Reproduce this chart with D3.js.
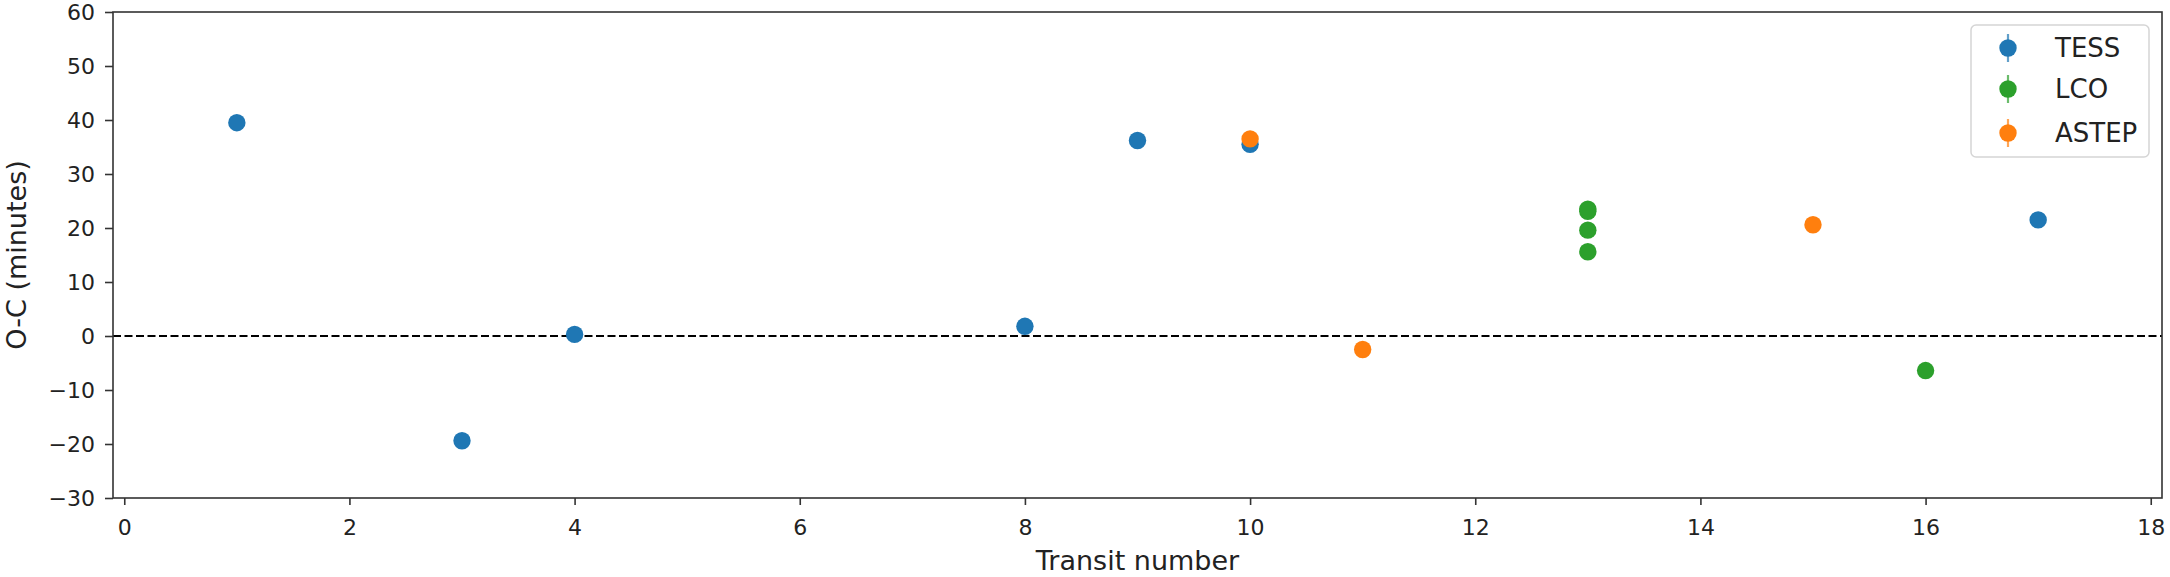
<!DOCTYPE html>
<html><head><meta charset="utf-8">
<script src="https://cdn.jsdelivr.net/npm/d3@7"></script>
<style>
html,body{margin:0;padding:0;background:#fff;}
svg{display:block;font-family:"DejaVu Sans",sans-serif;}
</style></head>
<body>
<svg id="chart" width="2170" height="577"></svg>
<script>
// ---- data ----
const seriesNames = ["TESS", "LCO", "ASTEP"];
const seriesColors = ["#1f77b4", "#2ca02c", "#ff7f0e"];
const tessX = [1, 3, 4, 8, 9, 10, 17];
const tessY = [39.5, -19.4, 0.3, 1.8, 36.2, 35.5, 21.5];
const tessErr = [0.6, 0.8, 0.6, 0.6, 0.6, 0.6, 0.6];
const lcoX = [13, 13, 13, 13, 16];
const lcoY = [23.5, 23.1, 19.6, 15.6, -6.4];
const lcoErr = [1.3, 1.3, 1.3, 1.3, 1.0];
const astepX = [10, 11, 15];
const astepY = [36.5, -2.5, 20.6];
const astepErr = [0.8, 0.8, 0.8];
const xTicks = [0, 2, 4, 6, 8, 10, 12, 14, 16, 18];
const yTicks = [-30, -20, -10, 0, 10, 20, 30, 40, 50, 60];
const xLabel = "Transit number";
const yLabel = "O-C (minutes)";

const series = [
  {name: seriesNames[0], color: seriesColors[0], x: tessX, y: tessY, e: tessErr},
  {name: seriesNames[1], color: seriesColors[1], x: lcoX, y: lcoY, e: lcoErr},
  {name: seriesNames[2], color: seriesColors[2], x: astepX, y: astepY, e: astepErr}
];

const svg = d3.select("#chart");
const L = 113, R = 2162, T = 12, B = 498;
const x = d3.scaleLinear().domain([-0.1, 18.1]).range([L, R]);
const y = d3.scaleLinear().domain([-30, 60]).range([B, T]);

// zero line
svg.append("line")
  .attr("x1", L).attr("x2", R).attr("y1", y(0)).attr("y2", y(0))
  .attr("stroke", "#000").attr("stroke-width", 2.2).attr("stroke-dasharray", "8,3.5");

// data
series.forEach(s => {
  const g = svg.append("g");
  const pts = s.x.map((xv, i) => ({x: xv, y: s.y[i], e: s.e[i]}));
  g.selectAll("line").data(pts).enter().append("line")
    .attr("x1", d => x(d.x)).attr("x2", d => x(d.x))
    .attr("y1", d => y(d.y - d.e)).attr("y2", d => y(d.y + d.e))
    .attr("stroke", s.color).attr("stroke-width", 2.2);
  g.selectAll("circle").data(pts).enter().append("circle")
    .attr("cx", d => x(d.x)).attr("cy", d => y(d.y)).attr("r", 8.7)
    .attr("fill", s.color);
});

// axes
const xAxis = svg.append("g").attr("transform", `translate(0,${B})`)
  .call(d3.axisBottom(x).tickValues(xTicks).tickSize(7).tickPadding(10).tickFormat(d3.format("d")));
const yAxis = svg.append("g").attr("transform", `translate(${L},0)`)
  .call(d3.axisLeft(y).tickValues(yTicks).tickSize(8).tickPadding(10).tickFormat(d => d < 0 ? "\u2212" + Math.abs(d) : d));
[xAxis, yAxis].forEach(a => {
  a.select(".domain").remove();
  a.selectAll(".tick line").attr("stroke", "#333").attr("stroke-width", 1.6);
  a.selectAll(".tick text").attr("fill", "#222").style("font-size", "22px").style("font-family", "DejaVu Sans");
});
xAxis.selectAll(".tick text").attr("dy", "0.9em");

// frame
svg.append("rect").attr("x", L).attr("y", T).attr("width", R - L).attr("height", B - T)
  .attr("fill", "none").attr("stroke", "#333").attr("stroke-width", 1.6);

// axis labels
svg.append("text").attr("x", (L + R) / 2).attr("y", 570).attr("text-anchor", "middle")
  .attr("fill", "#222").style("font-size", "27px").text(xLabel);
svg.append("text").attr("transform", `translate(26,${(T + B) / 2}) rotate(-90)`)
  .attr("text-anchor", "middle").attr("fill", "#222").style("font-size", "27px").text(yLabel);

// legend
const lg = svg.append("g");
lg.append("rect").attr("x", 1971).attr("y", 25).attr("width", 178).attr("height", 132)
  .attr("rx", 5).attr("fill", "#fff").attr("fill-opacity", 0.8).attr("stroke", "#d5d5d5").attr("stroke-width", 1.5);
const ly = [48, 89, 133];
series.forEach((s, i) => {
  lg.append("line").attr("x1", 2008).attr("x2", 2008).attr("y1", ly[i] - 14).attr("y2", ly[i] + 14)
    .attr("stroke", s.color).attr("stroke-width", 2.2).attr("stroke-opacity", 0.7);
  lg.append("circle").attr("cx", 2008).attr("cy", ly[i]).attr("r", 8.7).attr("fill", s.color);
  lg.append("text").attr("x", 2055).attr("y", ly[i]).attr("dy", "0.36em")
    .attr("fill", "#222").style("font-size", "26px").text(s.name);
});
</script>
</body></html>
